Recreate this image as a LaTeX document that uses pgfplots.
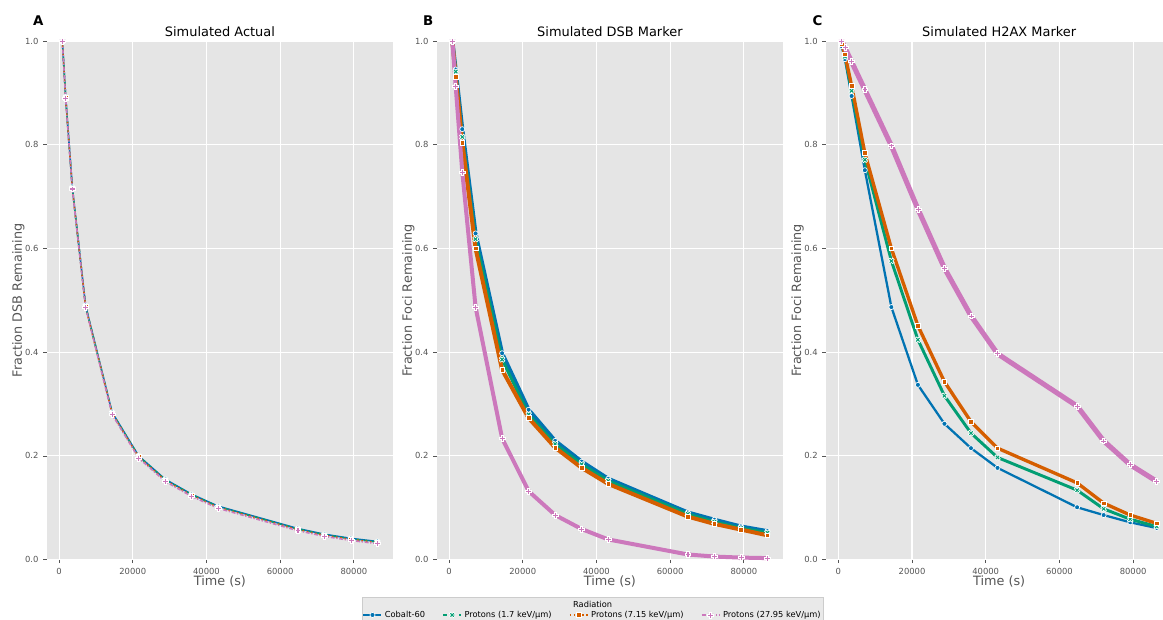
\documentclass[border=0pt]{standalone}
\usepackage{fontspec}
\setmainfont{DejaVu Sans}
\usepackage{pgfplots}
\usepackage{pgfplotstable}
\pgfplotsset{compat=1.18}

\definecolor{cblue}{HTML}{0173B2}
\definecolor{cgreen}{HTML}{029E73}
\definecolor{corange}{HTML}{D55E00}
\definecolor{cpink}{HTML}{CC78BC}
\definecolor{panelbg}{HTML}{E5E5E5}
\definecolor{txtgray}{HTML}{555555}

% filled plus and filled X marks
\pgfdeclareplotmark{Pf}{%
  \pgfpathmoveto{\pgfpoint{0.35\pgfplotmarksize}{0.35\pgfplotmarksize}}%
  \pgfpathlineto{\pgfpoint{0.35\pgfplotmarksize}{\pgfplotmarksize}}%
  \pgfpathlineto{\pgfpoint{-0.35\pgfplotmarksize}{\pgfplotmarksize}}%
  \pgfpathlineto{\pgfpoint{-0.35\pgfplotmarksize}{0.35\pgfplotmarksize}}%
  \pgfpathlineto{\pgfpoint{-\pgfplotmarksize}{0.35\pgfplotmarksize}}%
  \pgfpathlineto{\pgfpoint{-\pgfplotmarksize}{-0.35\pgfplotmarksize}}%
  \pgfpathlineto{\pgfpoint{-0.35\pgfplotmarksize}{-0.35\pgfplotmarksize}}%
  \pgfpathlineto{\pgfpoint{-0.35\pgfplotmarksize}{-\pgfplotmarksize}}%
  \pgfpathlineto{\pgfpoint{0.35\pgfplotmarksize}{-\pgfplotmarksize}}%
  \pgfpathlineto{\pgfpoint{0.35\pgfplotmarksize}{-0.35\pgfplotmarksize}}%
  \pgfpathlineto{\pgfpoint{\pgfplotmarksize}{-0.35\pgfplotmarksize}}%
  \pgfpathlineto{\pgfpoint{\pgfplotmarksize}{0.35\pgfplotmarksize}}%
  \pgfpathclose
  \pgfusepathqfillstroke}
\pgfdeclareplotmark{Xf}{\pgftransformrotate{45}\pgfuseplotmark{Pf}}

% time (s), Cobalt-60, protons 1.7 / 7.15 / 27.95 keV/um
\pgfplotstableread{
t co p17 p715 p2795
900 1.000 1.000 1.000 1.000
1800 0.892 0.891 0.890 0.889
3600 0.718 0.717 0.716 0.715
7200 0.490 0.489 0.488 0.487
14400 0.284 0.283 0.282 0.280
21600 0.200 0.199 0.198 0.196
28800 0.155 0.154 0.153 0.151
36000 0.126 0.125 0.124 0.122
43200 0.103 0.102 0.101 0.099
64800 0.060 0.059 0.058 0.056
72000 0.049 0.048 0.047 0.045
79200 0.041 0.040 0.039 0.037
86400 0.035 0.034 0.033 0.031
}\tabA

\pgfplotstableread{
t co p17 p715 p2795
900 1.000 1.000 1.000 1.000
1800 0.945 0.941 0.931 0.913
3600 0.830 0.815 0.804 0.747
7200 0.629 0.618 0.600 0.487
14400 0.398 0.386 0.366 0.234
21600 0.289 0.280 0.273 0.132
28800 0.229 0.223 0.216 0.086
36000 0.189 0.184 0.177 0.059
43200 0.156 0.152 0.146 0.039
64800 0.091 0.088 0.083 0.010
72000 0.077 0.073 0.069 0.006
79200 0.064 0.061 0.058 0.004
86400 0.055 0.052 0.047 0.003
}\tabB

\pgfplotstableread{
t co p17 p715 p2795
900 0.990 0.995 0.995 1.000
1800 0.965 0.970 0.974 0.987
3600 0.894 0.904 0.914 0.960
7200 0.751 0.771 0.784 0.906
14400 0.487 0.576 0.600 0.798
21600 0.337 0.424 0.451 0.676
28800 0.262 0.316 0.343 0.562
36000 0.215 0.244 0.266 0.470
43200 0.177 0.197 0.215 0.397
64800 0.101 0.134 0.148 0.296
72000 0.086 0.098 0.109 0.229
79200 0.072 0.078 0.086 0.183
86400 0.061 0.064 0.070 0.151
}\tabC

\tikzset{
  letter/.style={font=\bfseries\fontsize{10}{12}\selectfont},
  ptitle/.style={font=\fontsize{9.7}{11}\selectfont, anchor=center},
}

\pgfplotsset{
  panel/.style={
    scale only axis, width=259.95pt, height=389pt, anchor=north west,
    clip=false,
    xmin=-3375, xmax=90675, ymin=0, ymax=1,
    xtick={0,20000,40000,60000,80000},
    ytick={0,0.2,0.4,0.6,0.8,1.0},
    yticklabels={0.0,0.2,0.4,0.6,0.8,1.0},
    scaled x ticks=false,
    xticklabel style={/pgf/number format/1000 sep={}},
    /pgf/number format/assume math mode=true,
    tick label style={font=\fontsize{6.3}{7}\selectfont, text=txtgray},
    axis line style={draw=none},
    axis background/.style={fill=panelbg},
    grid=major, major grid style={white, line width=0.8pt},
    tick style={txtgray, line width=0.6pt},
    tick align=outside, major tick length=2.6pt, tick pos=left,
    label style={font=\fontsize{9.6}{11}\selectfont, text=txtgray},
    xlabel={Time (s)},
    x label style={at={(axis description cs:0.5,-0.0424)}, anchor=center},
    y label style={at={(axis description cs:-0.0816,0.5)}, anchor=center},
  },
  mk/.style={mark options={solid, fill=#1, draw=white, line width=0.5pt}},
  ser co/.style={cblue, mark=*, mark size=1.9pt, mk=cblue},
  ser p17/.style={cgreen, mark=Xf, mark size=2.2pt, mk=cgreen},
  ser p715/.style={corange, mark=square*, mark size=1.7pt, mk=corange},
  ser p2795/.style={cpink, mark=Pf, mark size=2.2pt, mk=cpink},
}

\begin{document}
\begin{tikzpicture}
% legend box behind everything
\fill[fill=gray!17, draw=gray!40, line width=0.5pt] (271.7pt,-448pt) rectangle (617.25pt,-470pt);
\node[font=\fontsize{6.2}{7}\selectfont] at (444.5pt,-453pt) {Radiation};

% A
\begin{axis}[panel, at={(34.95pt,-30.75pt)}, ylabel={Fraction DSB Remaining}]
\addplot[ser co, line width=1.2pt, solid] table[x=t, y=co] {\tabA};
\addplot[ser p17, line width=1.2pt, dashed] table[x=t, y=p17] {\tabA};
\addplot[ser p715, line width=1.2pt, dotted] table[x=t, y=p715] {\tabA};
\addplot[ser p2795, line width=1.2pt, dash pattern=on 3pt off 1.2pt on 1pt off 1.2pt] table[x=t, y=p2795] {\tabA};
\node[ptitle] at (rel axis cs:0.5,1.0188) {Simulated Actual};
\node[letter] at (rel axis cs:-0.024,1.039) {A};
\end{axis}

% B
\begin{axis}[panel, at={(327.45pt,-30.75pt)}, ylabel={Fraction Foci Remaining},
  legend columns=4,
  legend style={at={(-0.2138,-0.1066)}, anchor=west, draw=none, fill=none,
    inner sep=0pt, font=\fontsize{6.2}{7}\selectfont,
    /tikz/every even column/.append style={column sep=11pt}},
  legend image code/.code={\draw[mark repeat=2, mark phase=2, #1]
    plot coordinates {(0pt,0pt) (6.75pt,0pt) (13.5pt,0pt)};}]
\addplot[ser co, line width=3pt, forget plot] table[x=t, y=co] {\tabB};
\addplot[ser p17, line width=2.2pt, forget plot] table[x=t, y=p17] {\tabB};
\addplot[ser p715, line width=3pt, forget plot] table[x=t, y=p715] {\tabB};
\addplot[ser p2795, line width=3pt, forget plot] table[x=t, y=p2795] {\tabB};
\addlegendimage{ser co, line width=1.1pt, solid}
\addlegendentry{Cobalt-60}
\addlegendimage{ser p17, line width=1.1pt, dashed}
\addlegendentry{Protons (1.7 keV/µm)}
\addlegendimage{ser p715, line width=1.1pt, dotted}
\addlegendentry{Protons (7.15 keV/µm)}
\addlegendimage{ser p2795, line width=1.1pt, dash pattern=on 3pt off 1.2pt on 1pt off 1.2pt}
\addlegendentry{Protons (27.95 keV/µm)}
\node[ptitle] at (rel axis cs:0.5,1.0188) {Simulated DSB Marker};
\node[letter] at (rel axis cs:-0.024,1.039) {B};
\end{axis}

% C
\begin{axis}[panel, at={(619.4pt,-30.75pt)}, ylabel={Fraction Foci Remaining}]
\addplot[ser co, line width=1.7pt] table[x=t, y=co] {\tabC};
\addplot[ser p17, line width=2.2pt] table[x=t, y=p17] {\tabC};
\addplot[ser p715, line width=2.5pt] table[x=t, y=p715] {\tabC};
\addplot[ser p2795, line width=3.8pt] table[x=t, y=p2795] {\tabC};
\node[ptitle] at (rel axis cs:0.5,1.0188) {Simulated H2AX Marker};
\node[letter] at (rel axis cs:-0.024,1.039) {C};
\end{axis}

\pgfresetboundingbox
\path[use as bounding box] (0pt,0pt) rectangle (872.25pt,-465pt);
\end{tikzpicture}
\end{document}
